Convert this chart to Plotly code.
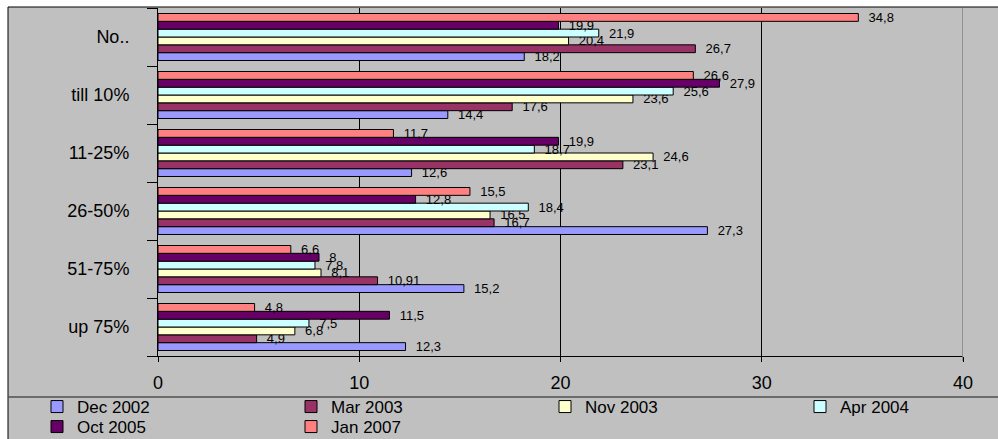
import plotly.graph_objects as go

# Share of respondents per category, one list per survey wave
categories = ["No..", "till 10%", "11-25%", "26-50%", "51-75%", "up 75%"]

dec_2002 = [18.2, 14.4, 12.6, 27.3, 15.2, 12.3]
mar_2003 = [26.7, 17.6, 23.1, 16.7, 10.91, 4.9]
nov_2003 = [20.4, 23.6, 24.6, 16.5, 8.1, 6.8]
apr_2004 = [21.9, 25.6, 18.7, 18.4, 7.8, 7.5]
oct_2005 = [19.9, 27.9, 19.9, 12.8, 8, 11.5]
jan_2007 = [34.8, 26.6, 11.7, 15.5, 6.6, 4.8]

series_names = ["Dec 2002", "Mar 2003", "Nov 2003", "Apr 2004", "Oct 2005", "Jan 2007"]
series_values = [dec_2002, mar_2003, nov_2003, apr_2004, oct_2005, jan_2007]
series_colors = ["#9999FF", "#993366", "#FFFFCC", "#CCFFFF", "#660066", "#FF8080"]
series_legends = ["legend", "legend", "legend", "legend2", "legend3", "legend3"]

x_ticks = [0, 10, 20, 30, 40]

FONT = "Liberation Sans, Arial, sans-serif"
GRAY = "#C0C0C0"

# plot area in pixels
W, H = 998, 439
L, R, T, B = 158, 35, 8, 83
PW, PH = W - L - R, H - T - B


def px_x(p):
    return (p - L) / PW


def px_y(p):
    return (H - B - p) / PH


def fmt(v):
    return "\u00a0\u00a0" + f"{v:g}".replace(".", ",")


fig = go.Figure()
for name, vals, color, lg in zip(series_names, series_values, series_colors, series_legends):
    fig.add_trace(go.Bar(
        name=name,
        x=vals,
        y=categories,
        orientation="h",
        marker=dict(color=color, line=dict(color="black", width=1)),
        text=[fmt(v) for v in vals],
        textposition="outside",
        constraintext="none",
        cliponaxis=False,
        textfont=dict(family=FONT, size=13, color="black"),
        legend=lg,
        hoverinfo="skip",
    ))

legend_common = dict(
    orientation="h",
    font=dict(family=FONT, size=17, color="black"),
    bgcolor="rgba(0,0,0,0)",
    borderwidth=0,
    xanchor="left",
    yanchor="middle",
)

fig.update_layout(
    width=W,
    height=H,
    margin=dict(l=L, r=R, t=T, b=B, autoexpand=False),
    paper_bgcolor="white",
    plot_bgcolor=GRAY,
    barmode="group",
    bargap=0.19,
    bargroupgap=0,
    font=dict(family=FONT, color="black"),
    legend=dict(x=px_x(37), y=px_y(407), entrywidth=209, entrywidthmode="pixels", **legend_common),
    legend2=dict(x=px_x(800), y=px_y(407), **legend_common),
    legend3=dict(x=px_x(37), y=px_y(427), entrywidth=209, entrywidthmode="pixels", **legend_common),
    xaxis=dict(
        range=[0, 40],
        tickvals=x_ticks,
        ticktext=[str(t) for t in x_ticks],
        showgrid=True,
        gridcolor="black",
        gridwidth=1,
        zeroline=False,
        showline=True,
        linecolor="black",
        linewidth=1,
        ticks="outside",
        ticklen=5,
        tickcolor="black",
        tickfont=dict(family=FONT, size=18, color="black"),
        ticklabelstandoff=5,
        fixedrange=True,
    ),
    yaxis=dict(
        type="category",
        categoryorder="array",
        categoryarray=categories[::-1],
        showgrid=False,
        zeroline=False,
        showline=True,
        linecolor="black",
        linewidth=1,
        ticks="outside",
        tickson="boundaries",
        ticklen=10,
        tickcolor="black",
        tickfont=dict(family=FONT, size=18, color="black"),
        ticklabelstandoff=24,
        fixedrange=True,
    ),
    shapes=[
        # gray chart panel with its frame
        dict(type="rect", xref="paper", yref="paper", layer="below",
             x0=px_x(8), x1=px_x(W + 20), y0=px_y(H + 20), y1=px_y(7),
             fillcolor=GRAY, line=dict(color="black", width=1)),
        # right edge of the plot area
        dict(type="line", xref="x", yref="paper", x0=40, x1=40, y0=px_y(361), y1=1,
             line=dict(color="#808080", width=1.5)),
        # separator above the legend
        dict(type="line", xref="paper", yref="paper", x0=px_x(8), x1=px_x(W + 20),
             y0=px_y(397), y1=px_y(397), line=dict(color="#505050", width=1.5)),
    ],
)

fig.write_html("out.html", config={"displayModeBar": False})
